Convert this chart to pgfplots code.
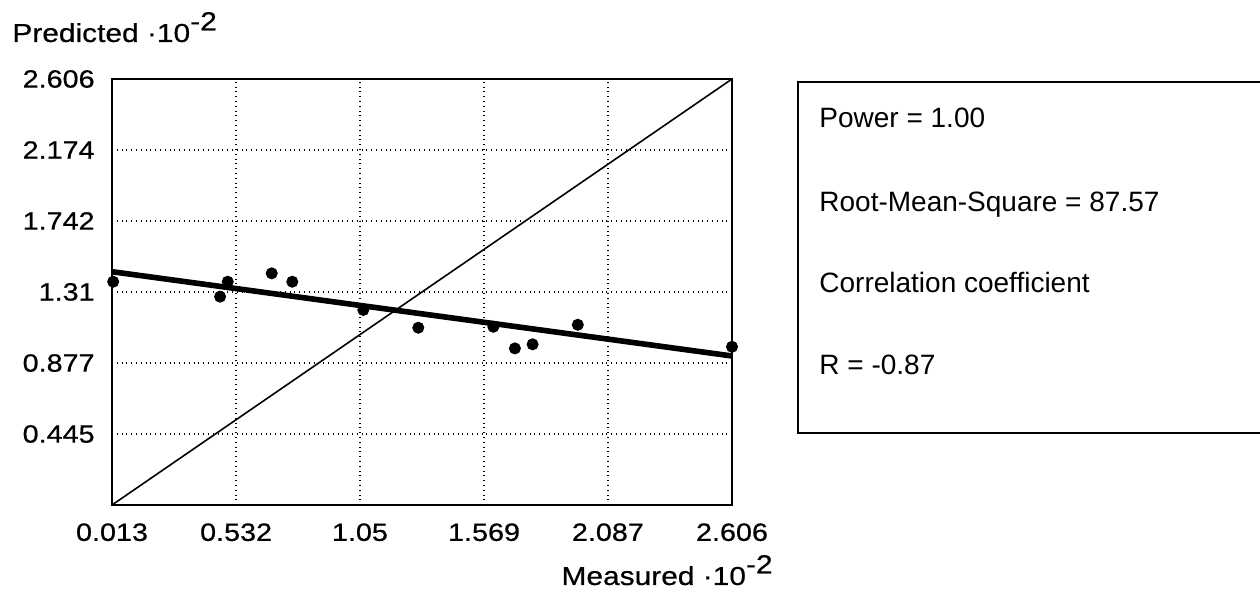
\documentclass[border=0pt]{standalone}
\usepackage{pgfplots}
\pgfplotsset{compat=1.18}
\usepackage{fontspec}
\setmainfont{Liberation Sans}
\newfontfamily\axfont[FakeStretch=1.15,FakeBold=0.6]{Liberation Sans}
\begin{document}
\begin{tikzpicture}
\useasboundingbox (0,0) rectangle (630pt,296.5pt);
\begin{axis}[
  at={(56pt,44pt)}, anchor=south west,
  width=310pt, height=213pt, scale only axis,
  xmin=0.013, xmax=2.606, ymin=0.013, ymax=2.606,
  xtick={0.013,0.532,1.05,1.569,2.087,2.606},
  xticklabels={0.013,0.532,1.05,1.569,2.087,2.606},
  ytick={0.445,0.877,1.31,1.742,2.174,2.606},
  yticklabels={0.445,0.877,1.31,1.742,2.174,2.606},
  grid=major,
  major grid style={black, dotted, line width=0.6pt},
  major tick length=0pt,
  axis line style={black, line width=0.8pt},
  tick label style={font=\axfont\fontsize{12.5}{14}\selectfont, inner sep=0pt},
  xticklabel style={anchor=north, yshift=-9pt},
  yticklabel style={anchor=east, xshift=-8.5pt},
  clip=false,
]
\addplot[black, line width=0.8pt] coordinates {(0.013,0.013) (2.606,2.606)};
\addplot[black, line width=2.8pt] coordinates {(0.013,1.433) (2.606,0.920)};
\addplot[only marks, mark=*, mark size=2.8pt, black] coordinates {
(0.018,1.372)
(0.465,1.281)
(0.497,1.372)
(0.681,1.423)
(0.767,1.372)
(1.064,1.200)
(1.294,1.092)
(1.608,1.098)
(1.698,0.966)
(1.772,0.991)
(1.961,1.110)
(2.606,0.976)
};
\end{axis}
\node[anchor=base west, inner sep=0pt, font=\axfont\fontsize{13}{15}\selectfont] at (6pt,275.5pt) {Predicted ·10\raisebox{0.45em}{-2}};
\node[anchor=base east, inner sep=0pt, font=\axfont\fontsize{13}{15}\selectfont] at (386.5pt,4pt) {Measured ·10\raisebox{0.45em}{-2}};
\draw[black, line width=0.75pt] (630pt,255.5pt) -- (399pt,255.5pt) -- (399pt,80pt) -- (630pt,80pt);
\begin{scope}[every node/.style={anchor=base west, inner sep=0pt, font=\fontsize{14}{16}\selectfont}]
\node at (409.5pt,232.5pt) {Power = 1.00};
\node at (409.5pt,190.5pt) {Root-Mean-Square = 87.57};
\node at (409.5pt,150pt) {Correlation coefficient};
\node at (409.5pt,109pt) {R = -0.87};
\end{scope}
\end{tikzpicture}
\end{document}
